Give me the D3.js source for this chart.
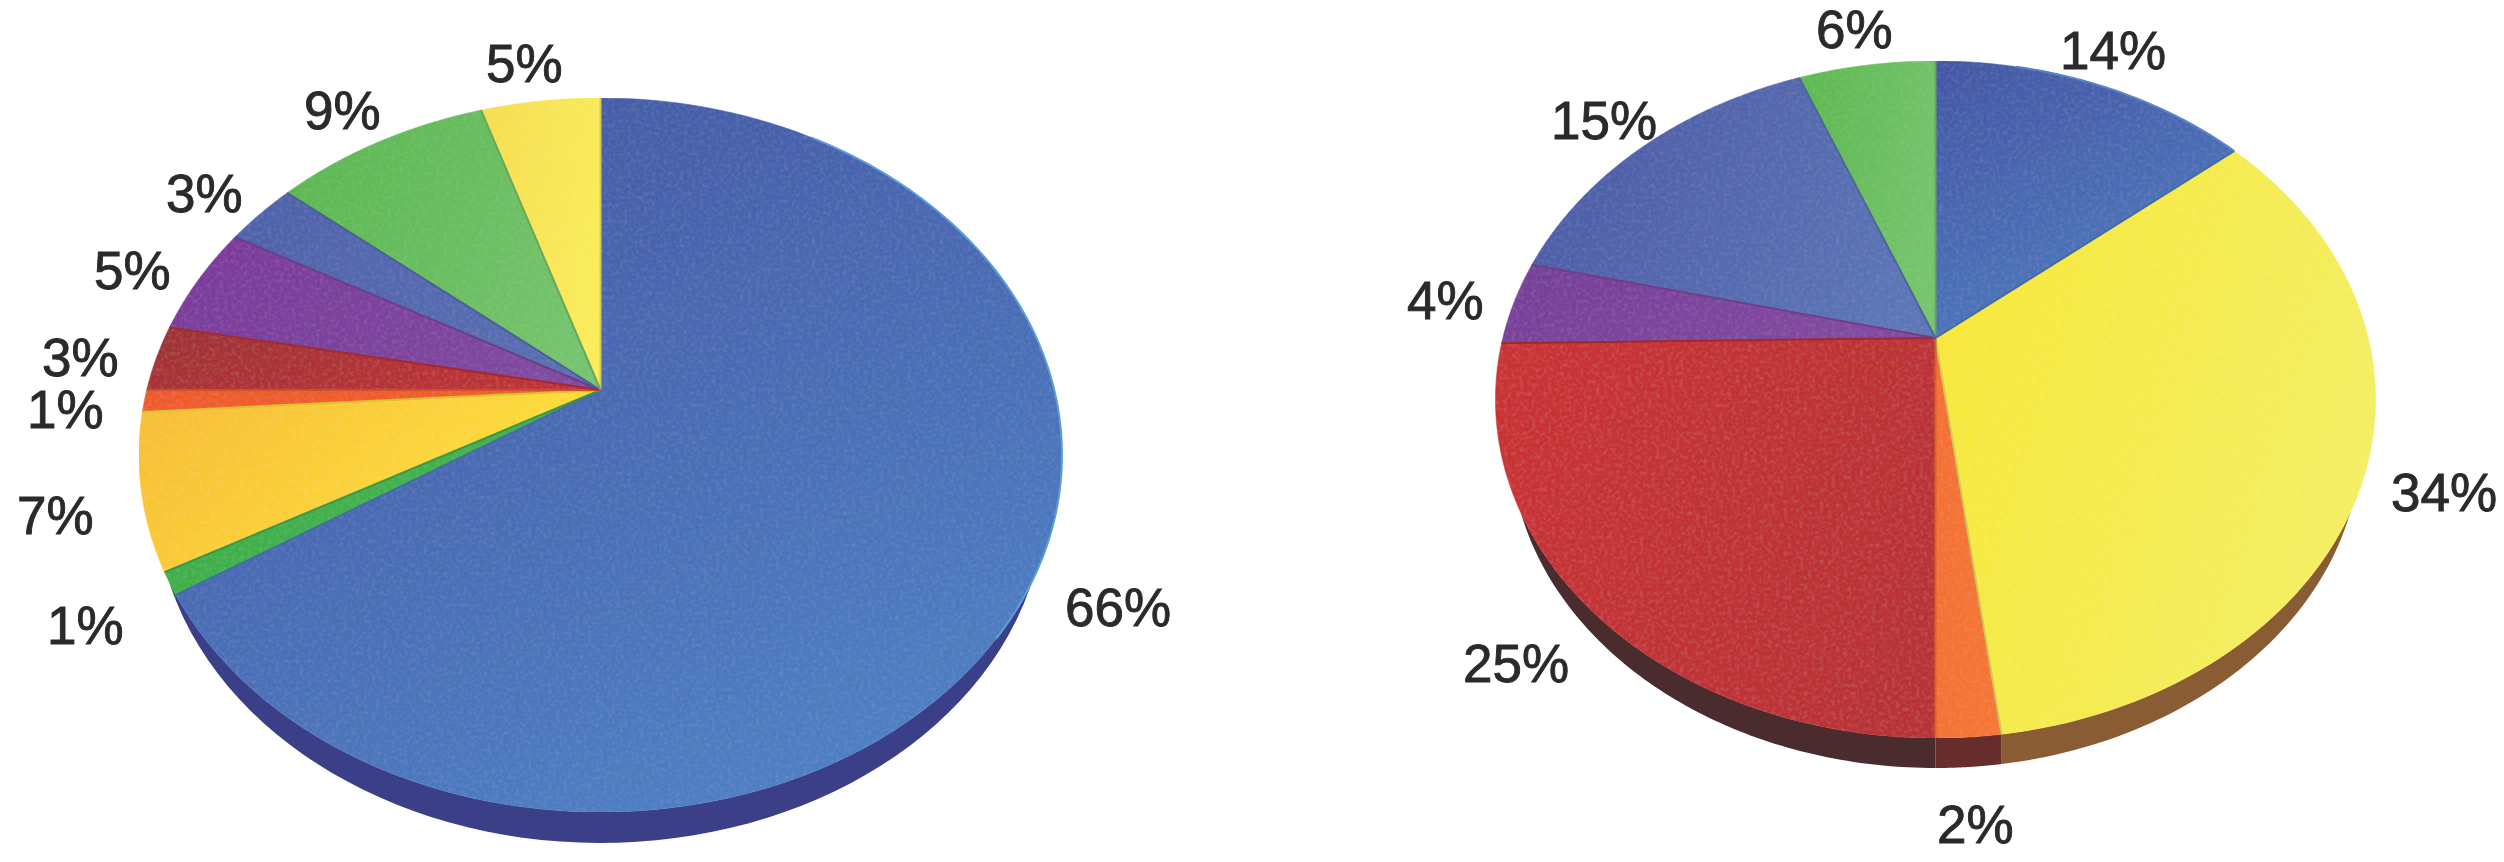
<!DOCTYPE html>
<html><head><meta charset="utf-8">
<script src="https://cdn.jsdelivr.net/npm/d3@7"></script>
<style>html,body{margin:0;padding:0;background:#fff;overflow:hidden}svg{display:block}text{font-family:"Liberation Sans",Arial,sans-serif;font-size:53px;fill:#2a2a2a;stroke:#2a2a2a;stroke-width:0.9px}</style>
</head><body><svg id="chart" width="2504" height="862"></svg>
<script>
// ---- data (clockwise from 12 o'clock) ----
const leftValues  = [66, 1, 7, 1, 3, 5, 3, 9, 5];
const leftLabels  = ["66%","1%","7%","1%","3%","5%","3%","9%","5%"];
const rightValues = [14, 34, 2, 24.75, 4, 15.25, 6];
const rightLabels = ["14%","34%","2%","25%","4%","15%","6%"];

// ---- styles ----
const leftFills = [["#4458a5","#4e80c4"],["#3fae4a","#45b352"],["#f8c034","#ffe53a"],["#ee5a2c","#f0602c"],["#a03035","#c13136"],["#7a3a9b","#8049a1"],["#4f63ac","#5a6fb3"],["#5cb852","#76c46e"],["#f6df50","#faed5a"]];
const leftSides = ["#3a3f87","#1f6a30","#9a7a20","#7a3020","#5a2020","#402060","#2a3570","#2a6a30","#8a7a30"];
const rightFills = [["#4459a7","#4f7dc0"],["#f7e838","#f3ef66"],["#f47030","#f57634"],["#c93134","#b83236"],["#763f99","#8449a1"],["#4c5ba7","#5c76b7"],["#60b952","#76c56e"]];
const rightSides = ["#2a3570","#8a5c33","#662d2c","#4a2b2e","#402060","#2a3570","#2a6a30"];

// ---- layout ----
const leftGeom  = {cx:600.5, cy:455, rx:461.5, ry:357, apexY:390, sideCy:497, sideRx:445, sideRy:346};
const rightGeom = {cx:1935.5, cy:399.5, rx:440, ry:338.5, apexY:338, sideCy:441, sideRx:425, sideRy:327};
const leftLabelPos  = [[1065,626],[47,644],[17,534],[27,428],[42,376],[94,289],[166,212],[304,129],[486,82]];
const rightLabelPos = [[2060,69],[2391,511],[1937,843],[1463,682],[1407,319],[1551,139],[1816,48]];

const svg = d3.select("#chart");
const defs = svg.append("defs");
const grain = defs.append("filter").attr("id","grain").attr("x",0).attr("y",0).attr("width",1).attr("height",1);
grain.append("feTurbulence").attr("type","fractalNoise").attr("baseFrequency",0.25).attr("numOctaves",2).attr("seed",4).attr("result","n");
grain.append("feColorMatrix").attr("in","n").attr("type","matrix").attr("values","0 0 0 0 1  0 0 0 0 1  0 0 0 0 1  0.12 0 0 0 -0.05").attr("result","a");
grain.append("feComposite").attr("in","a").attr("in2","SourceAlpha").attr("operator","in").attr("result","c");
const merge = grain.append("feMerge");
merge.append("feMergeNode").attr("in","SourceGraphic");
merge.append("feMergeNode").attr("in","c");

function drawPie(id, values, labels, fills, sides, g, labelPos, rimColor){
  const k = (g.cy - g.apexY) / g.ry;
  const q = Math.sqrt(1 - k*k);
  const xs = d3.scaleLinear().domain([-1,1]).range([g.cx-g.rx, g.cx+g.rx]);
  const ys = d3.scaleLinear().domain([-1,1]).range([g.cy+g.ry, g.cy-g.ry]);
  // perspective view of the pie disc: angle/radius -> picture
  const project = (theta, r) => {
    const u = r*Math.sin(theta), v = r*Math.cos(theta), w = 1 + k*v;
    return [xs(u*q/w), ys((v+k)/w)];
  };
  const arcPts = (a,b) => d3.range(0,121).map(i => project(a+(b-a)*i/120, 1));
  const line = d3.line();
  const arcs = d3.pie().sort(null)(values);
  const sideY = (x,y) => {
    const t = (x-g.cx)/g.sideRx;
    return Math.abs(t) < 1 ? Math.max(y, g.sideCy + g.sideRy*Math.sqrt(1-t*t)) : y;
  };
  const root = svg.append("g").attr("id",id);
  root.append("g").selectAll("path").data(arcs).join("path")
    .attr("d", d => {
      const top = arcPts(d.startAngle,d.endAngle).filter(p => p[1] > g.cy);
      if (!top.length) return null;
      const low = top.map(p => [p[0], sideY(p[0],p[1])]).reverse();
      return line(top.concat(low)) + "Z";
    })
    .attr("fill",(d,i)=>sides[i]);

  fills.forEach((c,i)=>{
    const diag = i===0;
    const lg = defs.append("linearGradient").attr("id",id+"g"+i)
      .attr("x1",diag?0.2:0).attr("y1",diag?0:0.3).attr("x2",diag?0.7:1).attr("y2",diag?1:0.7);
    lg.append("stop").attr("offset",0).attr("stop-color",c[0]);
    lg.append("stop").attr("offset",1).attr("stop-color",c[1]);
  });
  const face = root.append("g").attr("filter","url(#grain)");
  face.selectAll("path").data(arcs).join("path")
    .attr("d", d => line([project(0,0), ...arcPts(d.startAngle,d.endAngle)]) + "Z")
    .attr("fill",(d,i)=>`url(#${id}g${i})`)
    .attr("stroke",(d,i)=>`url(#${id}g${i})`).attr("stroke-width",0.6);
  // bevelled edge along the start radius of each slice
  root.append("g").selectAll("path").data(arcs).join("path")
    .attr("d", d => line([project(0,0), project(d.startAngle,1)]))
    .attr("fill","none").attr("stroke",(d,i)=>d3.color(fills[(i+values.length-1)%values.length][1]).darker(0.45))
    .attr("stroke-width",2);
  // light rim on the first slice
  const first = arcs[0];
  root.append("path").attr("d", line(arcPts(first.startAngle, Math.min(first.endAngle,Math.PI*0.72)).slice(30)))
    .attr("fill","none").attr("stroke",rimColor).attr("stroke-width",2);
  root.append("g").selectAll("text").data(labels).join("text")
    .attr("x",(d,i)=>labelPos[i][0]).attr("y",(d,i)=>labelPos[i][1]).text(d=>d);
}
drawPie("L", leftValues, leftLabels, leftFills, leftSides, leftGeom, leftLabelPos, "#5c9fd8");
drawPie("R", rightValues, rightLabels, rightFills, rightSides, rightGeom, rightLabelPos, "#5a86c6");
</script></body></html>
